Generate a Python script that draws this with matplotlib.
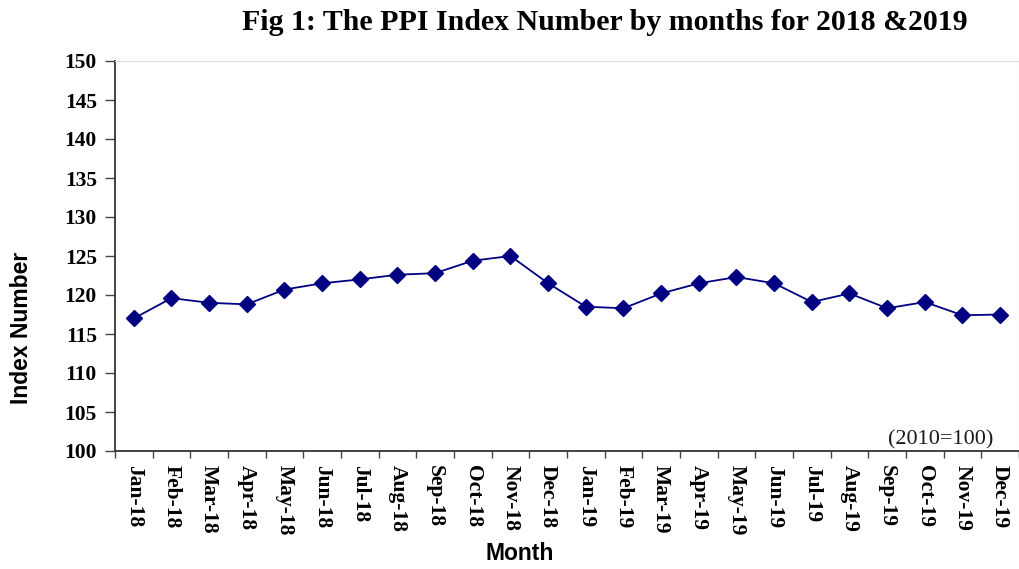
import matplotlib.pyplot as plt
import numpy as np

# PPI index values
months = ["Jan-18", "Feb-18", "Mar-18", "Apr-18", "May-18", "Jun-18",
          "Jul-18", "Aug-18", "Sep-18", "Oct-18", "Nov-18", "Dec-18",
          "Jan-19", "Feb-19", "Mar-19", "Apr-19", "May-19", "Jun-19",
          "Jul-19", "Aug-19", "Sep-19", "Oct-19", "Nov-19", "Dec-19"]
ppi = [117.0, 119.6, 119.0, 118.8, 120.7, 121.5,
       122.0, 122.6, 122.8, 124.4, 125.0, 121.5,
       118.5, 118.3, 120.2, 121.5, 122.3, 121.5,
       119.1, 120.2, 118.3, 119.1, 117.4, 117.5]
yticks = list(range(100, 151, 5))

serif = ["Liberation Serif", "DejaVu Serif"]
sans = ["Liberation Sans", "DejaVu Sans"]

fig = plt.figure(figsize=(10.2, 5.69), dpi=100)
ax = fig.add_axes([115 / 1020, 1 - 451 / 569, (1019 - 115) / 1020, (451 - 61) / 569])

x = np.arange(len(months))
ax.plot(x, ppi, color="#000080", linewidth=1.3, marker="D", markersize=8,
        markerfacecolor="#000080", markeredgecolor="#000080")

ax.set_xlim(-0.5, len(months) - 0.5)
ax.set_ylim(100, 150)
ax.set_yticks(yticks)
ax.set_yticklabels([str(v) for v in yticks], family=serif, fontweight="bold", fontsize=15.5)
ax.set_xticks(x)
ax.set_xticklabels(months, rotation=270, family=serif, fontweight="bold", fontsize=15.5,
                   va="top", ha="center")
ax.set_xticks(np.arange(-0.5, len(months), 1), minor=True)
ax.tick_params(axis="x", which="major", length=0, pad=10)
ax.tick_params(axis="x", which="minor", length=5, width=1, color="#444444", direction="out")
ax.tick_params(axis="y", length=7, width=1, color="#444444", direction="out", pad=6)

for side in ["left", "bottom"]:
    ax.spines[side].set_color("#333333")
    ax.spines[side].set_linewidth(1.3)
for side in ["top", "right"]:
    ax.spines[side].set_color("#dddddd")
    ax.spines[side].set_linewidth(0.8)

fig.text(22 / 1020, 1 - 328 / 569, "Index Number", family=sans, fontweight="bold",
         fontsize=16.5, rotation=90, ha="center", va="center")
fig.text(520 / 1020, 1 - 553 / 569, "Month", family=sans, fontweight="bold", fontsize=16.5,
         ha="center", va="center")
fig.text(605 / 1020, 1 - 22 / 569, "Fig 1: The PPI Index Number by months for 2018 &2019",
         family=serif, fontweight="bold", fontsize=21.5, ha="center", va="center")
fig.text(993 / 1020, 1 - 444 / 569, "(2010=100)", family=serif, fontsize=16,
         ha="right", va="baseline", color="#1a1a1a")

fig.savefig("out.png", dpi=100)
